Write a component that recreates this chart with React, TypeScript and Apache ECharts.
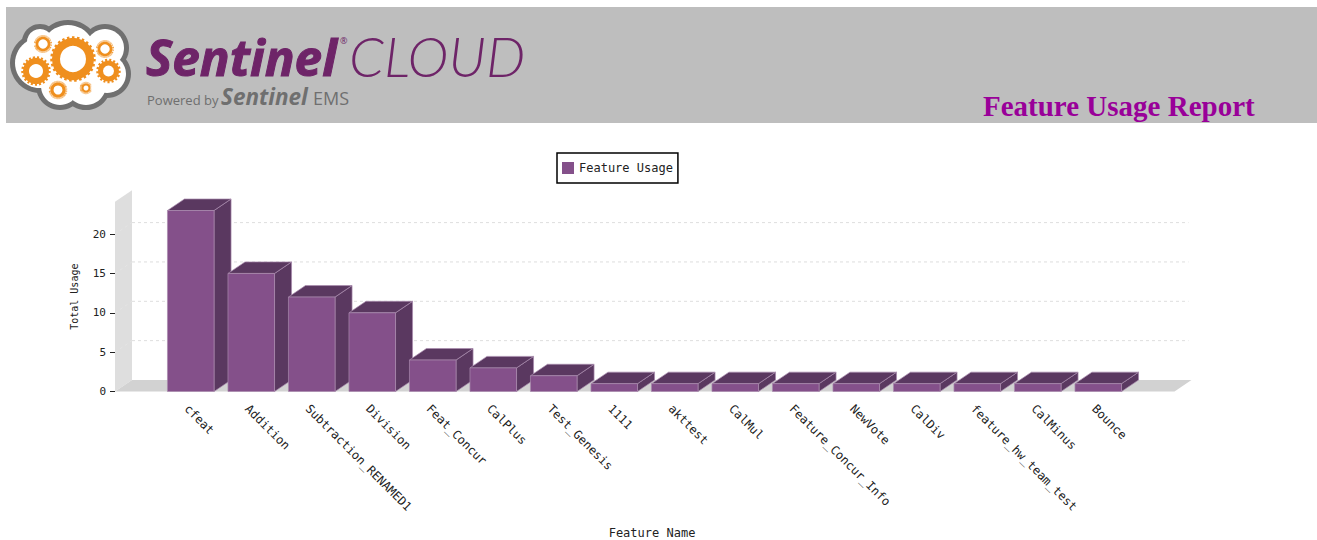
import React, { useEffect, useRef } from "react";
import * as echarts from "echarts";

const categories = ["cfeat", "Addition", "Subtraction_RENAMED1", "Division", "Feat_Concur", "CalPlus", "Test_Genesis", "1111", "akttest", "CalMul", "Feature_Concur_Info", "NewVote", "CalDiv", "feature_hw_team_test", "CalMinus", "Bounce"];
const usage = [23, 15, 12, 10, 4, 3, 2, 1, 1, 1, 1, 1, 1, 1, 1, 1];
const yTicks = [0, 5, 10, 15, 20];
const seriesName = "Feature Usage";
const reportTitle = "Feature Usage Report";
const xName = "Feature Name";
const yName = "Total Usage";
const mono = "DejaVu Sans Mono";
const DX = 17;
const DY = -11.5;
const yMax = 24.1;

const ring = (x: number, y: number, r: number, w: number, teeth: number) => [
  { type: "circle", shape: { cx: x, cy: y, r: r + w / 2 + 0.5 }, style: { fill: "none", stroke: "#ef8f1e", lineWidth: 2.5, lineDash: [teeth, teeth] } },
  { type: "circle", shape: { cx: x, cy: y, r }, style: { fill: "#fff", stroke: "#ef8f1e", lineWidth: w } },
];

const cloud = [[40, 63, 30], [68, 52, 32], [105, 48, 24], [107, 74, 24], [60, 86, 24], [86, 85, 25], [40, 42, 18]];
const logo: any[] = [
  ...cloud.map(([cx, cy, r]) => ({ type: "circle", shape: { cx, cy, r }, style: { fill: "#707070" } })),
  ...cloud.map(([cx, cy, r]) => ({ type: "circle", shape: { cx, cy, r: r - 5 }, style: { fill: "#fff" } })),
  ...ring(73, 59, 17, 8, 2.5),
  ...ring(36, 71, 10, 6, 2),
  ...ring(108.5, 71, 8, 5, 2),
  ...ring(105, 49, 6, 2.5, 0.1),
  ...ring(43, 44, 6, 2.5, 0.1),
  ...ring(58, 90, 6, 3, 0.1),
  ...ring(86, 88, 3.5, 2, 0.1),
];

export default function App() {
  const ref = useRef<HTMLDivElement>(null);
  useEffect(() => {
    const chart = echarts.init(ref.current!, null, { renderer: "svg" });
    const scaffold = (_: any, api: any) => {
      const band = api.size([1, 0])[0];
      const left = api.coord([0, 0])[0] - band / 2 - 45.5;
      const right = api.coord([categories.length - 1, 0])[0] + band / 2 + 46;
      const y0 = api.coord([0, 0])[1];
      const yt = api.coord([0, yMax])[1];
      const children: any[] = [
        { type: "polygon", shape: { points: [[left, y0], [left + DX, y0 + DY], [left + DX, yt + DY], [left, yt]] }, style: { fill: "#dedede" } },
        { type: "polygon", shape: { points: [[left, y0], [left + DX, y0 + DY], [right + DX, y0 + DY], [right, y0]] }, style: { fill: "#d2d2d2" } },
      ];
      yTicks.slice(1).forEach((t) => {
        const y = api.coord([0, t])[1];
        children.push({ type: "line", shape: { x1: left, y1: y, x2: left + DX, y2: y + DY }, style: { stroke: "#e4e4e4", lineWidth: 1, lineDash: [3, 3] } });
        children.push({ type: "line", shape: { x1: left + DX, y1: y + DY, x2: right + DX - 3, y2: y + DY }, style: { stroke: "#dedede", lineWidth: 1, lineDash: [3, 3] } });
      });
      return { type: "group", children };
    };
    const bar3d = (_: any, api: any) => {
      const [cx, yTop] = api.coord([api.value(0), api.value(1)]);
      const y0 = api.coord([0, 0])[1];
      const w = api.size([1, 0])[0] * 0.77;
      const l = cx - w / 2;
      const r = cx + w / 2;
      const edge = { stroke: "#a98bae", lineWidth: 0.7 };
      return {
        type: "group",
        children: [
          { type: "polygon", shape: { points: [[r, y0], [r + DX, y0 + DY], [r + DX, yTop + DY], [r, yTop]] }, style: { fill: "#5a3860", ...edge } },
          { type: "polygon", shape: { points: [[l, yTop], [l + DX, yTop + DY], [r + DX, yTop + DY], [r, yTop]] }, style: { fill: "#5a3860", ...edge } },
          { type: "rect", shape: { x: l, y: yTop, width: w, height: y0 - yTop }, style: { fill: "#84508a", ...edge } },
        ],
      };
    };
    chart.setOption({
      animation: false,
      textStyle: { fontFamily: mono },
      legend: {
        data: [seriesName], left: 557, top: 153, icon: "rect", itemWidth: 12, itemHeight: 12,
        padding: [9, 5, 9, 5], borderColor: "#000", borderWidth: 1.5, backgroundColor: "#fff",
        textStyle: { fontFamily: mono, fontSize: 12, color: "#222" },
      },
      grid: { left: 160.5, width: 968, top: 391.5 - yMax * 7.87, height: yMax * 7.87, outerBoundsMode: "none" },
      xAxis: {
        type: "category", data: categories,
        name: xName, nameLocation: "middle", nameGap: 135,
        nameTextStyle: { fontFamily: mono, fontSize: 12, color: "#222", padding: [0, 0, 0, 15] },
        axisLine: { show: false }, axisTick: { show: false },
        axisLabel: { rotate: -45, interval: 0, margin: 11, verticalAlign: "top", fontFamily: mono, fontSize: 12, color: "#222" },
      },
      yAxis: {
        type: "value", min: 0, max: yMax, offset: 45.5,
        name: yName, nameLocation: "middle", nameGap: 36,
        nameTextStyle: { fontFamily: mono, fontSize: 10, color: "#222" },
        axisLine: { show: false }, splitLine: { show: false },
        axisTick: { show: true, length: 5, lineStyle: { color: "#222" }, customValues: yTicks },
        axisLabel: { fontFamily: mono, fontSize: 11, color: "#222", margin: 9, customValues: yTicks },
      },
      series: [
        { type: "custom", name: "scaffold", renderItem: scaffold, data: [[0, 0]], encode: { x: 0, y: 1 }, silent: true, clip: false, z: 1 },
        { type: "custom", name: seriesName, renderItem: bar3d, data: categories.map((_, i) => [i, usage[i]]), encode: { x: 0, y: 1 }, itemStyle: { color: "#84508a" }, clip: false, z: 2 },
      ],
      graphic: [
        { type: "rect", z: -1, shape: { x: 6, y: 7, width: 1311, height: 116 }, style: { fill: "#bebebe" } },
        { type: "group", z: 0, children: logo },
        { type: "text", z: 0, x: 146, y: 35, style: { text: "Sentinel", fill: "#6e2468", stroke: "#6e2468", lineWidth: 1, lineHeight: 44, font: "italic bold 49.5px 'Open Sans'" } },
        { type: "text", z: 0, x: 340, y: 36, style: { text: "®", fill: "#6e2468", font: "9px 'Open Sans'" } },
        { type: "text", z: 0, x: 349, y: 27, style: { text: "CLOUD", fill: "#6e2468", font: "italic 300 55.5px Lato" } },
        { type: "text", z: 0, x: 147, y: 93, style: { text: "Powered by", fill: "#6f6f6f", font: "13px 'Open Sans'" } },
        { type: "text", z: 0, x: 221, y: 86, style: { text: "Sentinel", fill: "#6f6f6f", lineHeight: 20, font: "italic bold 22.5px 'Open Sans'" } },
        { type: "text", z: 0, x: 313, y: 89, style: { text: "EMS", fill: "#6f6f6f", font: "18px 'Open Sans'" } },
        { type: "text", z: 0, x: 983, y: 91, style: { text: reportTitle, fill: "#990099", font: "bold 29px 'Liberation Serif'" } },
      ],
    });
    return () => chart.dispose();
  }, []);
  return <div ref={ref} style={{ position: "absolute", left: 0, top: 0, width: 1317, height: 540 }} />;
}
